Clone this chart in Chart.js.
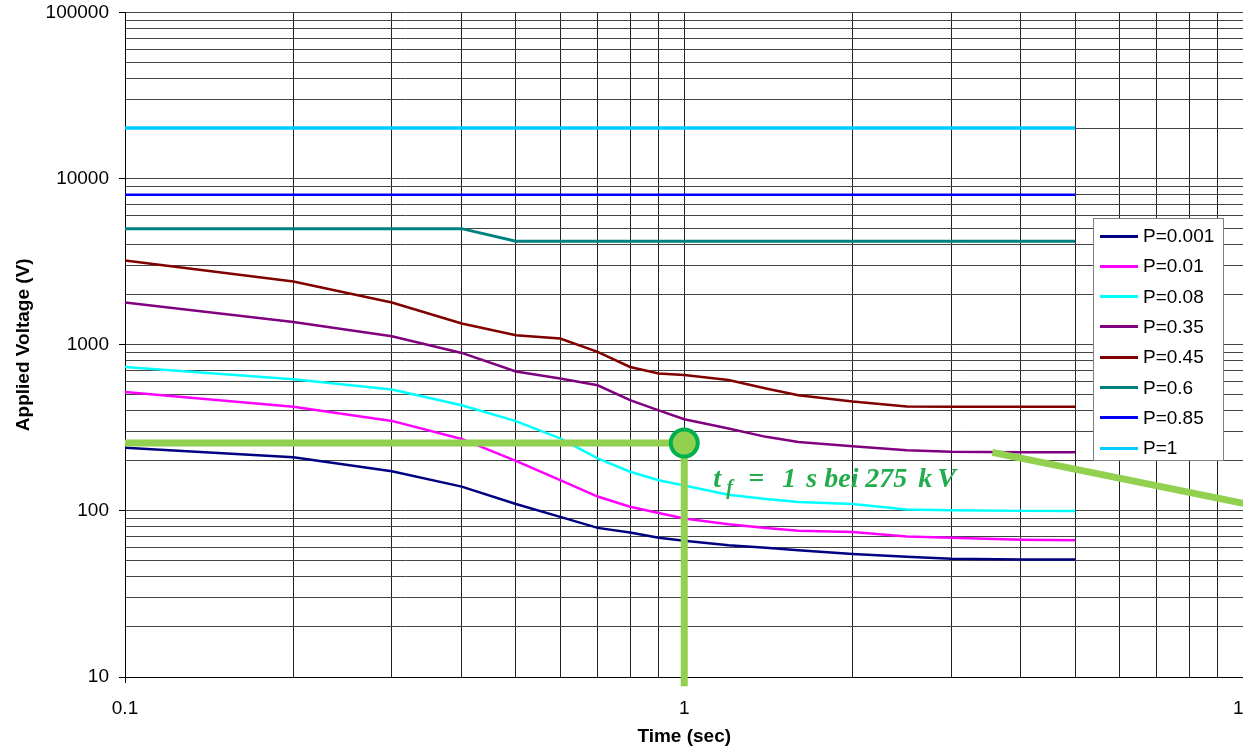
<!DOCTYPE html>
<html>
<head>
<meta charset="utf-8">
<title>Applied Voltage vs Time</title>
<script src="https://cdn.jsdelivr.net/npm/chart.js@4.4.1/dist/chart.umd.min.js"></script>
<style>
html, body { margin: 0; padding: 0; background: #fff; overflow: hidden; }
#wrap { position: relative; width: 1243px; height: 748px; overflow: hidden; }
#myChart { position: absolute; left: 0; top: -5px; }
#legend { position: absolute; left: 1093px; top: 218px; width: 129px; height: 241px; background: #fff;
  border: 1px solid #808080; font-family: "Liberation Sans", Arial, sans-serif; font-size: 19px; color: #000; }
.item { position: absolute; left: 6px; height: 30px; display: flex; align-items: center; white-space: nowrap; }
.swatch { width: 38px; height: 3px; margin-right: 5px; }
</style>
</head>
<body>
<div id="wrap">
  <canvas id="myChart" width="1261" height="753"></canvas>
  <div id="legend"></div>
</div>
<script>
// time points (sec)
const times = [0.1, 0.2, 0.3, 0.4, 0.5, 0.6, 0.7, 0.8, 0.9, 1, 1.2, 1.4, 1.6, 2, 2.5, 3, 4, 5]

// applied voltage (V) per probability curve
const p0001 = [240, 210, 173, 140, 110, 92, 79, 74, 69, 66, 62, 60, 58, 55, 53, 51.5, 51, 51]
const p001 = [520, 423, 348, 271, 200, 153, 122, 106, 97, 90, 83, 79, 76, 74.5, 70, 69, 67, 66.5]
const p008 = [735, 620, 537, 432, 347, 273, 207, 172, 153, 142, 125, 118, 113, 110, 102, 101, 100, 100]
const p035 = [1795, 1371, 1125, 893, 690, 626, 570, 464, 403, 356, 313, 279, 260, 245, 232, 227, 225, 225]
const p045 = [3220, 2400, 1795, 1343, 1140, 1089, 906, 735, 671, 658, 613, 546, 497, 455, 425, 424, 424, 424]
const p06 = [5000, 5000, 5000, 5000, 4200, 4200, 4200, 4200, 4200, 4200, 4200, 4200, 4200, 4200, 4200, 4200, 4200, 4200]
const p085 = [8000, 8000, 8000, 8000, 8000, 8000, 8000, 8000, 8000, 8000, 8000, 8000, 8000, 8000, 8000, 8000, 8000, 8000]
const p1 = [20200, 20200, 20200, 20200, 20200, 20200, 20200, 20200, 20200, 20200, 20200, 20200, 20200, 20200, 20200, 20200, 20200, 20200]

const seriesLabels = ['P=0.001', 'P=0.01', 'P=0.08', 'P=0.35', 'P=0.45', 'P=0.6', 'P=0.85', 'P=1']
const seriesValues = [p0001, p001, p008, p035, p045, p06, p085, p1]
const seriesColors = ['#000080', '#FF00FF', '#00FFFF', '#800080', '#800000', '#008080', '#0000FF', '#00CCFF']
const seriesWidths = [2.5, 2.5, 2.5, 2.5, 2.5, 3, 2.5, 3.5]

// axis ticks
const xTickLabels = ['0.1', '1', '10']
const yTickLabels = ['10', '100', '1000', '10000', '100000']
const xGrid = [0.1, 0.2, 0.3, 0.4, 0.5, 0.6, 0.7, 0.8, 0.9, 1, 2, 3, 4, 5, 6, 7, 8, 9, 10]
const yGrid = [10, 20, 30, 40, 50, 60, 70, 80, 90, 100, 200, 300, 400, 500, 600, 700, 800, 900,
  1000, 2000, 3000, 4000, 5000, 6000, 7000, 8000, 9000, 10000, 20000, 30000, 40000, 50000,
  60000, 70000, 80000, 90000, 100000]

// green reading guide: t_f = 1 s
const guideT = [0.1, 1]
const guideV = [256, 256]
const guideDropT = [1, 1]
const guideDropV = [256, 8.8]
const slopeT = [3.556, 10]
const slopeV = [225, 111]

const green = '#92D050'
const darkGreen = '#00B050'

function pts(xs, ys) {
  return xs.map((x, i) => ({x: x, y: ys[i]}))
}

function isDecade(v) {
  return Math.abs(Math.log10(v) - Math.round(Math.log10(v))) < 1e-9
}

var datasets = []
// guide lines drawn on top (lower order)
datasets.push({data: pts(guideT, guideV), borderColor: green, borderWidth: 7, pointRadius: 0, showLine: true, order: 0})
datasets.push({data: pts(guideDropT, guideDropV), borderColor: green, borderWidth: 7, pointRadius: 0, showLine: true, clip: false, order: 0})
datasets.push({data: pts(slopeT, slopeV), borderColor: green, borderWidth: 7, pointRadius: 0, showLine: true, clip: false, order: 0})
datasets.push({data: pts([guideT[1]], [guideV[1]]), backgroundColor: green, borderColor: darkGreen, borderWidth: 4,
  pointRadius: 13.5, showLine: false, clip: false, order: -1})

seriesLabels.forEach(function (lab, i) {
  datasets.push({
    label: lab,
    data: pts(times, seriesValues[i]),
    borderColor: seriesColors[i],
    borderWidth: seriesWidths[i],
    pointRadius: 0,
    showLine: true,
    order: 1 + i
  })
})

// text "t_f = 1 s bei 275 kV"
const notePlugin = {
  id: 'note',
  afterDatasetsDraw(chart) {
    const ctx = chart.ctx
    const x0 = chart.scales.x.getPixelForValue(1.127)
    const y0 = chart.scales.y.getPixelForValue(139)
    const parts = [['t', 0, 0], ['f', 13, 1], ['=', 35, 0], ['1', 69, 0], ['s', 93, 0], ['bei', 111, 0],
      ['275', 152, 0], ['k', 205, 0], ['V', 224, 0]]
    ctx.save()
    ctx.fillStyle = '#22AC4C'
    ctx.textBaseline = 'alphabetic'
    ctx.textAlign = 'left'
    parts.forEach(function (p) {
      if (p[2]) {
        ctx.font = 'italic bold 20px "Liberation Serif", serif'
        ctx.fillText(p[0], x0 + p[1], y0 + 7)
      } else {
        ctx.font = 'italic bold 28px "Liberation Serif", serif'
        ctx.fillText(p[0], x0 + p[1], y0)
      }
    })
    ctx.restore()
  }
}

Chart.defaults.font.family = '"Liberation Sans", Arial, sans-serif'
Chart.defaults.color = '#000'

var ctx = document.getElementById('myChart').getContext('2d')
var chart = new Chart(ctx, {
  type: 'scatter',
  data: {datasets: datasets},
  plugins: [notePlugin],
  options: {
    responsive: false,
    animation: false,
    layout: {padding: {top: 12, left: 0, right: 0, bottom: 0}},
    plugins: {legend: {display: false}, tooltip: {enabled: false}},
    scales: {
      x: {
        type: 'logarithmic',
        min: 0.1,
        max: 10,
        afterBuildTicks: function (s) { s.ticks = xGrid.map(v => ({value: v})) },
        afterFit: function (s) { s.height = 71; s.paddingRight = 0 },
        grid: {
          color: '#222',
          lineWidth: 1,
          tickLength: 6,
          tickColor: c => (c.tick && isDecade(c.tick.value)) ? '#000' : 'rgba(0,0,0,0)'
        },
        border: {color: '#000', width: 1},
        ticks: {
          autoSkip: false,
          maxRotation: 0,
          padding: 14,
          font: {size: 19},
          callback: function (v) {
            var l = xTickLabels.find(t => Math.abs(Number(t) - v) < 1e-9)
            return l === undefined ? '' : l
          }
        },
        title: {display: true, text: 'Time (sec)', font: {size: 19, weight: 'bold'}, padding: {top: 4, bottom: 0}}
      },
      y: {
        type: 'logarithmic',
        min: 10,
        max: 100000,
        afterBuildTicks: function (s) { s.ticks = yGrid.map(v => ({value: v})) },
        afterFit: function (s) { s.width = 125; s.paddingTop = 0; s.paddingBottom = 0 },
        grid: {
          color: '#444',
          lineWidth: 1,
          tickLength: 6,
          tickColor: c => (c.tick && isDecade(c.tick.value)) ? '#000' : 'rgba(0,0,0,0)'
        },
        border: {color: '#000', width: 1},
        ticks: {
          autoSkip: false,
          padding: 10,
          font: {size: 19},
          callback: function (v) {
            var l = yTickLabels.find(t => Number(t) === v)
            return l === undefined ? '' : l
          }
        },
        title: {display: true, text: 'Applied Voltage (V)', font: {size: 19, weight: 'bold'}, padding: {top: 12, bottom: 0}}
      }
    }
  }
})

// legend box
seriesLabels.forEach(function (lab, i) {
  var item = document.getElementById('legend').appendChild(document.createElement('div'))
  item.className = 'item'
  item.style.top = (2 + i * 30.3) + 'px'
  var sw = item.appendChild(document.createElement('span'))
  sw.className = 'swatch'
  sw.style.background = seriesColors[i]
  item.appendChild(document.createTextNode(lab))
})
</script>
</body>
</html>
